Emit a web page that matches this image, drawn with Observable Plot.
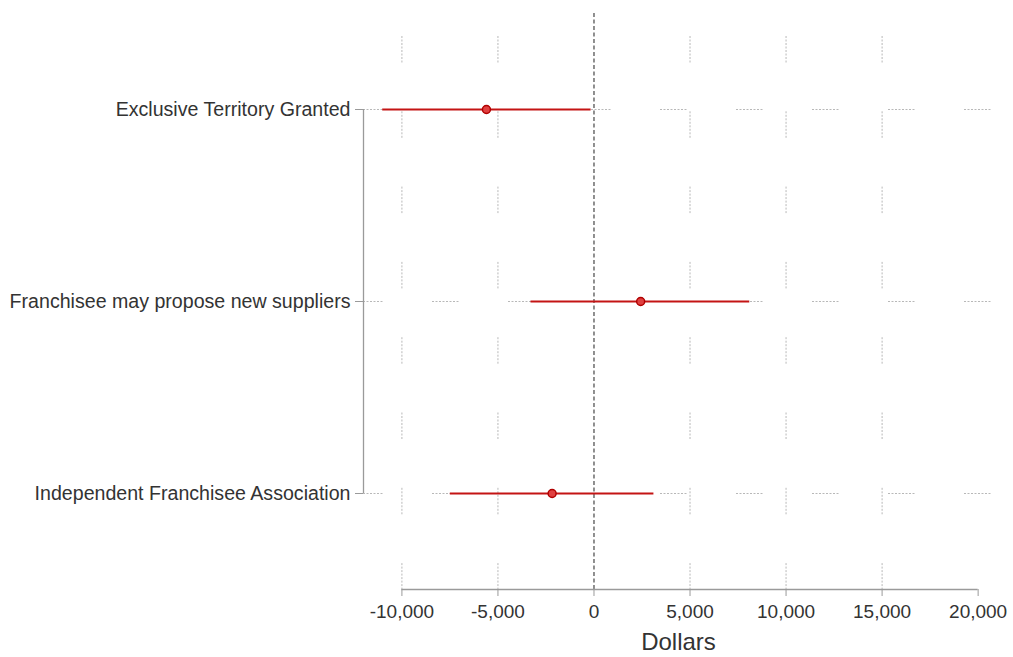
<!DOCTYPE html>
<html>
<head>
<meta charset="utf-8">
<script src="https://cdn.jsdelivr.net/npm/d3@7"></script>
<script src="https://cdn.jsdelivr.net/npm/@observablehq/plot@0.6"></script>
<style>
  html, body { margin: 0; padding: 0; background: #fff; }
</style>
</head>
<body>
<div id="chart"></div>
<script>
const categories = [
  "Exclusive Territory Granted",
  "Franchisee may propose new suppliers",
  "Independent Franchisee Association"
];
const estimates = [-5600, 2430, -2180];
const lower = [-11000, -3280, -7480];
const upper = [-150, 8110, 3120];
const xTicks = [-10000, -5000, 0, 5000, 10000, 15000, 20000];
const gridTicks = [-10000, -5000, 5000, 10000, 15000];
const xDomain = [-12000, 20800];
const yDomain = [-0.5, 2.5];

const rows = categories.map((c, i) => ({i, cat: c, est: estimates[i], lo: lower[i], hi: upper[i]}));
const idx = categories.map((_, i) => i);

// fine dotted texture inside the long grid dashes
const dots = (n) => Array(n).fill("2,1.5").join(",");
const vDash = dots(8) + ",0,47.3";
const hDash = dots(8) + ",0,48";

const chart = Plot.plot({
  width: 1013,
  height: 657,
  marginTop: 13,
  marginBottom: 68,
  marginLeft: 363,
  marginRight: 20,
  style: {fontFamily: "'Liberation Sans', Arial, sans-serif", background: "#fff"},
  x: {domain: xDomain},
  y: {domain: yDomain, reverse: true},
  marks: [
    Plot.ruleX(gridTicks, {y1: yDomain[0], y2: yDomain[1], stroke: "#b8b8b8", strokeWidth: 1, strokeDasharray: vDash, strokeDashoffset: 52.3}),
    Plot.ruleY(idx, {y: d => d, x1: xDomain[0], x2: xDomain[1], stroke: "#b8b8b8", strokeWidth: 1, strokeDasharray: hDash, strokeDashoffset: 7}),
    Plot.ruleX([0], {y1: yDomain[0], y2: yDomain[1], stroke: "#555", strokeWidth: 1.3, strokeDasharray: "4,2.5"}),
    Plot.ruleY([yDomain[1]], {x1: xTicks[0], x2: xTicks[xTicks.length - 1], stroke: "#9a9a9a", strokeWidth: 1.3}),
    Plot.ruleX([xDomain[0]], {y1: idx[0], y2: idx[idx.length - 1], stroke: "#9a9a9a", strokeWidth: 1.3}),
    Plot.axisX(xTicks, {tickSize: 7, tickPadding: 8, tickFormat: d => d.toLocaleString("en-US"), fontSize: 19, stroke: "#9a9a9a", fill: "#333", label: null}),
    Plot.axisY(idx, {tickSize: 8, tickPadding: 5, tickFormat: i => categories[i], fontSize: 19.6, stroke: "#9a9a9a", fill: "#333", label: null}),
    Plot.ruleY(rows, {y: "i", x1: "lo", x2: "hi", stroke: "#c41414", strokeWidth: 2}),
    Plot.dot(rows, {x: "est", y: "i", r: 4, fill: "#e04040", stroke: "#b00000", strokeWidth: 1.5}),
    Plot.text(["Dollars"], {frameAnchor: "bottom", dy: 60, fontSize: 24, fill: "#333"})
  ]
});
document.getElementById("chart").appendChild(chart);
</script>
</body>
</html>
